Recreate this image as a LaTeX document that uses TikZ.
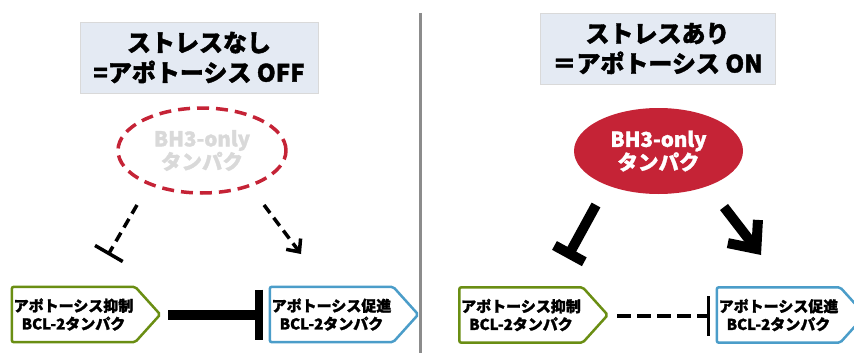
\documentclass[tikz,border=0pt]{standalone}
\usepackage{fontspec}
\setmainfont{Noto Sans CJK JP}[BoldFeatures={FakeBold=1.5}]
\usetikzlibrary{arrows.meta,calc,shapes.geometric}
\definecolor{titlefill}{HTML}{E4EAF3}
\definecolor{bhred}{HTML}{C52336}
\definecolor{antigreen}{HTML}{6A8E13}
\definecolor{problue}{HTML}{4B9DC9}
\definecolor{divgray}{HTML}{8C8C8C}
\definecolor{fadetext}{HTML}{D9D9D9}
\begin{document}
\begin{tikzpicture}[x=1pt,y=-1pt,
  titlebox/.style={fill=titlefill, draw=gray!30, line width=0.6pt, minimum height=71pt, align=center,
    font=\fontsize{24}{30}\selectfont\bfseries, inner sep=0pt},
  bhbox/.style={ellipse, minimum width=168pt, minimum height=85pt, align=center, inner sep=0pt,
    font=\fontsize{20.5}{23}\selectfont\bfseries},
  protbody/.style={minimum width=123pt, minimum height=55pt, inner sep=0pt, align=center,
    font=\fontsize{15}{18}\selectfont\bfseries},
  protline/.style={line width=2.5pt, rounded corners=2pt, fill=white},
  thinconn/.style={line width=3.5pt, dash pattern=on 10pt off 6pt},
  thickconn/.style={line width=10pt}
]
\useasboundingbox (0,0) rectangle (854,353);
% divider
\draw[divgray, line width=3pt] (420.5,13) -- (420.5,353);

% titles
\node[titlebox, minimum width=238pt] (tL) at (199,57.5) {ストレスなし\\=アポトーシス OFF};
\node[titlebox, minimum width=235pt] (tR) at (657.5,48.5) {ストレスあり\\＝アポトーシス ON};

% BH3 ellipses
\node[bhbox, draw=bhred, line width=3.5pt, dash pattern=on 12pt off 7pt, text=fadetext] (eL) at (202,150.5) {BH3-only\\タンパク};
\node[bhbox, fill=bhred, text=white, minimum width=169pt, minimum height=86pt] (eR) at (658.5,151) {BH3-only\\タンパク};

% protein boxes (left panel)
\node[protbody] (aL) at (73.5,314.5) {};
\draw[antigreen, protline] (aL.north west) -- (aL.north east) -- ($(aL.east)+(25,0)$) -- (aL.south east) -- (aL.south west) -- cycle;
\node[protbody] at (aL) {アポトーシス抑制\\BCL-2タンパク};

\node[protbody] (pL) at (331.5,314.5) {};
\draw[problue, protline] (pL.north west) -- (pL.north east) -- ($(pL.east)+(25,0)$) -- (pL.south east) -- (pL.south west) -- cycle;
\node[protbody] at (pL) {アポトーシス促進\\BCL-2タンパク};

% protein boxes (right panel)
\node[protbody] (aR) at (521,315) {};
\draw[antigreen, protline] (aR.north west) -- (aR.north east) -- ($(aR.east)+(25,0)$) -- (aR.south east) -- (aR.south west) -- cycle;
\node[protbody] at (aR) {アポトーシス抑制\\BCL-2タンパク};

\node[protbody] (pR) at (778.5,315) {};
\draw[problue, protline] (pR.north west) -- (pR.north east) -- ($(pR.east)+(25,0)$) -- (pR.south east) -- (pR.south west) -- cycle;
\node[protbody] at (pR) {アポトーシス促進\\BCL-2タンパク};

% connector end points
\coordinate (cL1s) at (137,205);
\coordinate (cL1e) at (108,255);
\coordinate (cL2s) at (264,205);
\coordinate (cL2e) at (301,254);
\coordinate (cL3s) at (168,314.5);
\coordinate (cL3e) at (263,314.5);
\coordinate (cR1s) at (596,205);
\coordinate (cR1e) at (567,258);
\coordinate (cR2s) at (724,207);
\coordinate (cR2e) at (761,255);
\coordinate (cR3s) at (617,316);
\coordinate (cR3e) at (710,316);

% left panel connectors
\draw[thinconn, -{Bar[width=32pt, line width=3.5pt]}] (cL1s) -- (cL1e);
\draw[thinconn, -{Straight Barb[length=10pt, width=18pt, line width=3.5pt]}] (cL2s) -- (cL2e);
\draw[thickconn, -{Bar[width=50pt, line width=8pt]}] (cL3s) -- (cL3e);

% right panel connectors
\draw[thickconn, -{Bar[width=34pt, line width=10pt]}] (cR1s) -- (cR1e);
\draw[thickconn, -{Straight Barb[length=22pt, width=38pt, line width=10pt]}] (cR2s) -- (cR2e);
\draw[line width=4pt, dash pattern=on 14pt off 6pt, -{Bar[width=40pt, line width=3.5pt]}] (cR3s) -- (cR3e);
\end{tikzpicture}
\end{document}
